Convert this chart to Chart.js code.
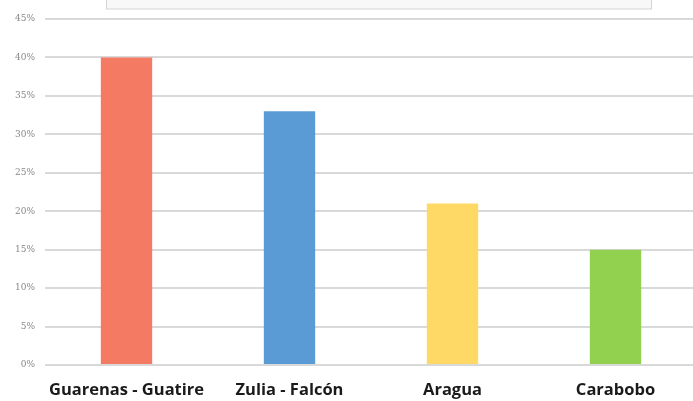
<!DOCTYPE html>
<html><head><meta charset="utf-8">
<script src="https://cdn.jsdelivr.net/npm/chart.js@4/dist/chart.umd.min.js"></script>
<style>html,body{margin:0;padding:0;background:#fff;overflow:hidden}#wrap{width:697px;height:401px}</style>
</head><body><div id="wrap"><canvas id="c"></canvas></div>
<script>
const categories = ["Guarenas - Guatire", "Zulia - Falcón", "Aragua", "Carabobo"];
const values = [40, 33, 21, 15];
const barColors = ["#F57A63", "#5B9BD5", "#FFD966", "#92D050"];
const yTicks = [0, 5, 10, 15, 20, 25, 30, 35, 40, 45];

const boxPlugin = {
  id: 'box',
  beforeDraw(chart) {
    const ctx = chart.ctx;
    ctx.save();
    ctx.fillStyle = '#f8f8f8';
    ctx.strokeStyle = '#d4d4d4';
    ctx.lineWidth = 1;
    ctx.fillRect(106.5, -3, 545, 12);
    ctx.strokeRect(106.5, -3, 545, 12);
    ctx.restore();
  }
};

new Chart(document.getElementById('c'), {
  type: 'bar',
  data: {
    labels: categories,
    datasets: [{ data: values, backgroundColor: barColors, borderWidth: 0,
      barPercentage: 0.63, categoryPercentage: 0.5 }]
  },
  options: {
    responsive: true, maintainAspectRatio: false, animation: false,
    layout: { padding: { top: 19, right: 0, left: 14, bottom: 0 } },
    plugins: { legend: { display: false }, tooltip: { enabled: false } },
    scales: {
      x: {
        grid: { display: false }, border: { display: false },
        afterFit(axis) { axis.height = 36; axis.paddingLeft = 0; axis.paddingRight = 0; },
        ticks: { color: '#1a1a1a', padding: 7, maxRotation: 0, autoSkip: false, font: { family: 'Open Sans', weight: 'bold', size: 16.5 } }
      },
      y: {
        min: 0, max: 45,
        afterFit(axis) { axis.width = 31; },
        afterBuildTicks(axis) { axis.ticks = yTicks.map(v => ({ value: v })); },
        grid: { color: '#d9d9d9', lineWidth: 2, drawTicks: false },
        border: { display: false },
        ticks: { color: '#888', padding: 10, font: { family: 'DejaVu Serif', size: 9 },
          callback: v => v + '%' }
      }
    }
  },
  plugins: [boxPlugin]
});
</script></body></html>
